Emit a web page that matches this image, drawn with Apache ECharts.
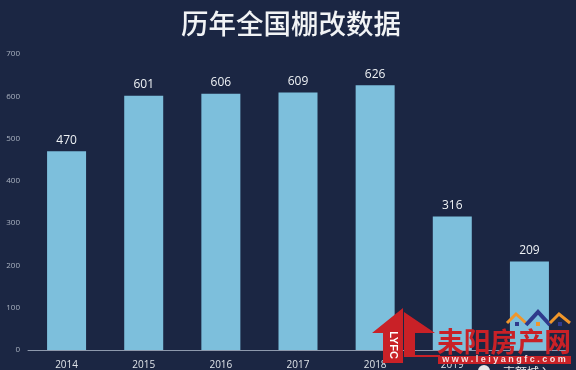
<!DOCTYPE html>
<html><head><meta charset="utf-8">
<style>html,body{margin:0;padding:0;background:#1b2643}#c{width:576px;height:370px}</style>
<script src="https://cdn.jsdelivr.net/npm/echarts@6/dist/echarts.min.js"></script>
</head><body><div id="c"></div>
<script>
const categories = ['2014','2015','2016','2017','2018','2019','2020'];
const values = [470,601,606,609,626,316,209];
const chart = echarts.init(document.getElementById('c'), null, {renderer:'canvas'});
const cjk = '"Noto Sans CJK SC","Noto Sans",sans-serif';
const red = '#c92127';
chart.setOption({
  animation:false,
  backgroundColor:'#1b2643',
  title:{text:'历年全国棚改数据',left:176,top:5,
    textStyle:{color:'#f1f3f5',fontSize:27.5,fontWeight:500,fontFamily:cjk}},
  grid:{left:28,right:8,top:54,bottom:19.5},
  xAxis:{type:'category',data:categories,
    axisLine:{lineStyle:{color:'#8e99ad',width:1}},axisTick:{show:false},
    axisLabel:{color:'#dfe3e8',fontSize:10,margin:10,fontFamily:'"Open Sans",sans-serif',interval:0}},
  yAxis:{type:'value',min:0,max:700,interval:100,
    axisLine:{show:false},axisTick:{show:false},splitLine:{show:false},
    axisLabel:{color:'#aab2c0',fontSize:8,margin:8,fontFamily:'"Open Sans",sans-serif'}},
  series:[{type:'bar',data:values,barWidth:39,
    itemStyle:{color:'#7dbfdc'},
    label:{show:true,position:'top',distance:5,color:'#eef1f4',fontSize:12,fontFamily:'"Open Sans",sans-serif'}}],
  graphic:[
    {type:'polygon',z:100,shape:{points:[[403,308],[403,363],[383,363],[383,333],[372,333]]},style:{fill:red}},
    {type:'polygon',z:100,shape:{points:[[404,312],[435,333],[415,333],[415,355],[440,355],[440,357],[404,357]]},style:{fill:red}},
    {type:'rect',z:100,shape:{x:438,y:356,width:133,height:8},style:{fill:red}},
    {type:'text',z:101,x:393,y:345,rotation:-Math.PI/2,style:{text:'LYFC',fill:'#fff',font:'bold 11px "Liberation Sans"',align:'center',verticalAlign:'middle'}},
    {type:'text',z:101,x:437,y:342,style:{text:'耒阳房产网',fill:red,font:'bold 26.8px "Noto Sans CJK SC"',verticalAlign:'middle'}},
    {type:'text',z:101,x:504,y:360,style:{text:'w w w . l e i y a n g f c . c o m',fill:'#f5e3e3',font:'bold 9px "Liberation Sans"',align:'center',verticalAlign:'middle'}},
    {type:'polyline',z:101,shape:{points:[[507,323],[516,314],[526,323]]},style:{stroke:'#f0962a',lineWidth:3,fill:null}},
    {type:'polyline',z:101,shape:{points:[[526,325],[538,312],[550,325]]},style:{stroke:'#2f3a8c',lineWidth:4,fill:null}},
    {type:'polyline',z:101,shape:{points:[[550,323],[559,314],[570,323]]},style:{stroke:'#f0962a',lineWidth:3,fill:null}},
    {type:'rect',z:101,shape:{x:515,y:322,width:4,height:4},style:{fill:'#2f3a8c'}},
    {type:'rect',z:101,shape:{x:536,y:322,width:4,height:4},style:{fill:'#f0962a'}},
    {type:'rect',z:101,shape:{x:558,y:322,width:4,height:4},style:{fill:'#2f3a8c'}},
    {type:'rect',z:101,shape:{x:476,y:364,width:100,height:6},style:{fill:'#1b2643'}},
    {type:'circle',z:102,shape:{cx:484,cy:371,r:6},style:{fill:'#e8e8e8'}},
    {type:'text',z:102,x:503,y:372,style:{text:'克额城入',fill:'#e8e8e8',font:'12px "Noto Sans CJK SC"',verticalAlign:'middle'}}
  ]
});
</script></body></html>
